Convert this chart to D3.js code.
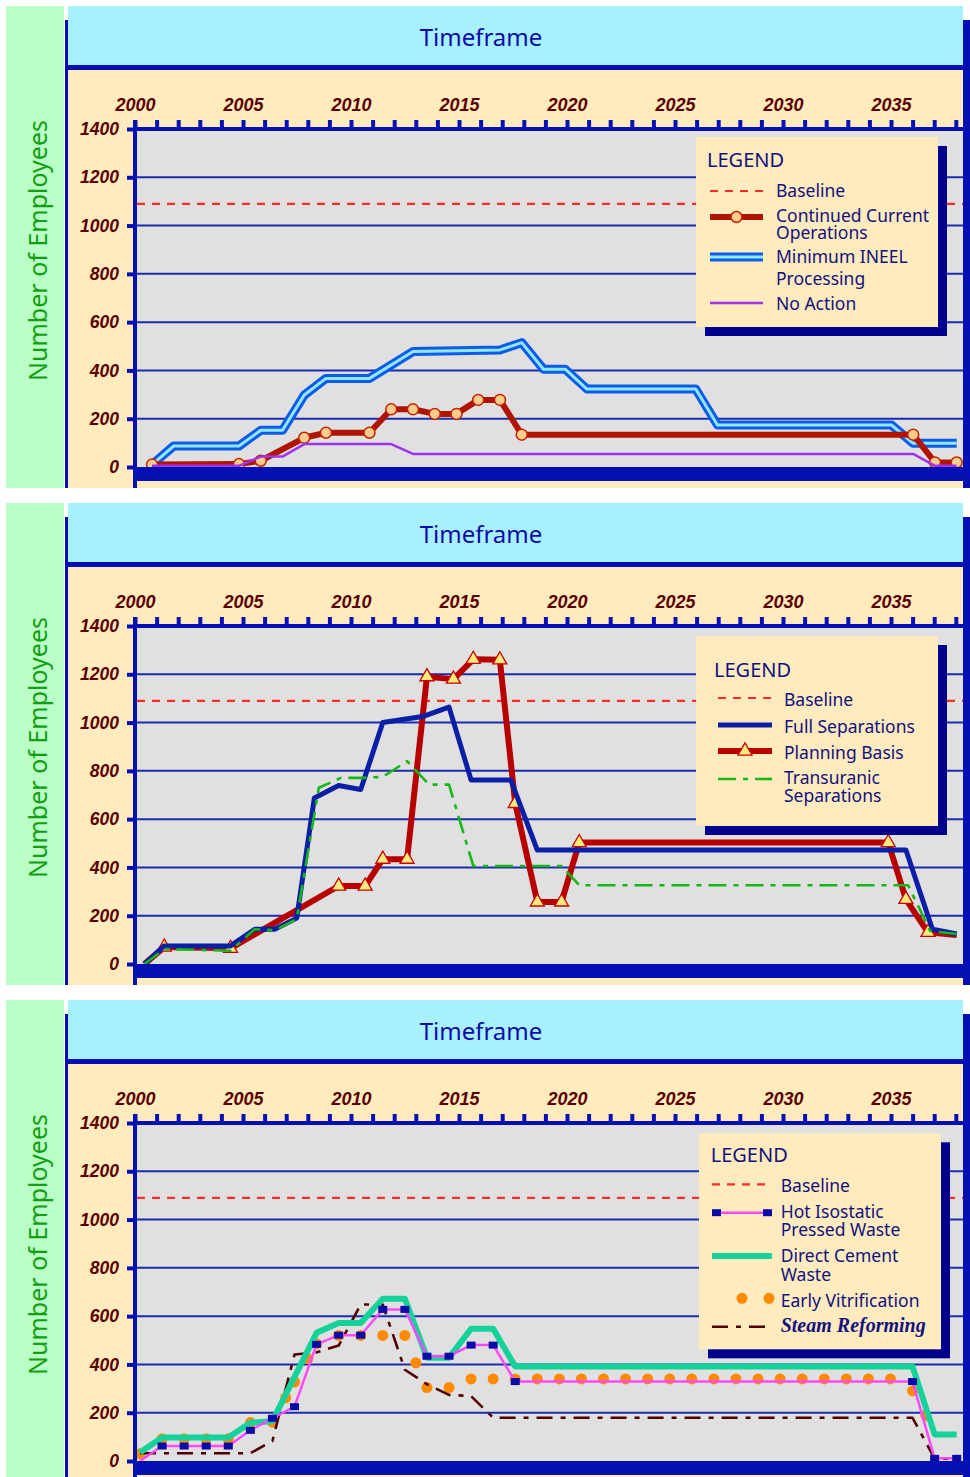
<!DOCTYPE html>
<html>
<head>
<meta charset="utf-8">
<title>Number of Employees by Timeframe</title>
<script src="https://cdn.jsdelivr.net/npm/d3@7"></script>
<style>
  body { margin: 0; background: #ffffff; }
  svg { display: block; }
  .title { font-family: 'Noto Sans', sans-serif; font-size: 24px; fill: #0c0ca8; }
  .ylabel { font-family: 'Noto Sans', sans-serif; font-size: 25px; fill: #12a012; }
  .tick text { font-family: 'Liberation Sans', Arial, sans-serif; font-weight: bold; font-style: italic; fill: #5a0000; }
  .legend-title { font-family: 'Noto Sans', sans-serif; font-size: 20px; fill: #12127f; }
  .legend-text { font-family: 'Noto Sans', sans-serif; font-size: 17.5px; fill: #12127f; }
  .legend-text.serif { font-family: 'Liberation Serif', serif; font-weight: bold; font-style: italic; font-size: 20px; }
</style>
</head>
<body>
<div id="chart"></div>
<script>
// ---------------------------------------------------------------------------
// DATA - values
// ---------------------------------------------------------------------------
const yearTicks = d3.range(2000, 2039);
const yearLabels = [2000, 2005, 2010, 2015, 2020, 2025, 2030, 2035];
const employeeTicks = [0, 200, 400, 600, 800, 1000, 1200, 1400];
const baselineEmployees = 1090;

// Panel 1
const minIneelYears = [2001, 2002, 2005, 2006, 2007, 2008, 2009, 2011, 2013, 2017, 2018, 2019, 2020, 2021, 2026, 2027, 2035, 2036, 2038];
const minIneelValues = [10, 87, 87, 152, 152, 298, 367, 367, 478, 485, 515, 405, 405, 323, 323, 174, 174, 98, 98];
const ccoYears = [2001, 2005, 2006, 2008, 2009, 2011, 2012, 2013, 2014, 2015, 2016, 2017, 2018, 2036, 2037, 2038];
const ccoValues = [10, 12, 26, 121, 142, 142, 239, 239, 220, 220, 278, 278, 134, 134, 19, 19];
const noActionYears = [2001, 2005, 2006, 2007, 2008, 2012, 2013, 2036, 2037, 2038];
const noActionValues = [5, 5, 43, 43, 95, 95, 54, 54, 5, 5];

// Panel 2
const planningYears = [2001.2, 2002.1, 2005.1, 2010.0, 2011.2, 2012.0, 2013.1, 2014.0, 2015.2, 2016.1, 2017.3, 2018.0, 2019.0, 2020.1, 2020.9, 2034.9, 2035.7, 2036.7, 2038.0];
const planningValues = [0, 70, 65, 323, 323, 434, 434, 1190, 1180, 1262, 1260, 665, 257, 257, 503, 503, 268, 131, 120];
const fullSepYears = [2001.2, 2002.1, 2005.1, 2006.2, 2007.1, 2008.1, 2008.9, 2010.0, 2011.0, 2012.0, 2013.8, 2015.0, 2016.0, 2017.8, 2019.0, 2035.7, 2036.9, 2038.0];
const fullSepValues = [0, 75, 75, 144, 144, 190, 688, 739, 723, 1000, 1025, 1064, 762, 762, 472, 472, 144, 124];
const transYears = [2001.2, 2002.1, 2005.1, 2006.2, 2007.1, 2008.1, 2009.1, 2010.1, 2011.0, 2012.0, 2013.1, 2014.1, 2015.0, 2016.1, 2020.1, 2020.9, 2035.8, 2036.8, 2038.0];
const transValues = [0, 62, 55, 144, 140, 186, 730, 771, 771, 775, 840, 743, 743, 406, 406, 326, 326, 137, 124];

// Panel 3
const evYears = [2001, 2002, 2003, 2004, 2005, 2006, 2007, 2007.6, 2008, 2008.6, 2009, 2010, 2011, 2012, 2013, 2013.5, 2014, 2015, 2016, 2017,
  2018, 2019, 2020, 2021, 2022, 2023, 2024, 2025, 2026, 2027, 2028, 2029, 2030, 2031, 2032, 2033, 2034, 2035, 2036, 2036.6];
const evValues = [30, 92, 92, 92, 92, 159, 161, 262, 327, 424, 486, 520, 520, 520, 520, 407, 304, 304, 340, 340,
  340, 340, 340, 340, 340, 340, 340, 340, 340, 340, 340, 340, 340, 340, 340, 340, 340, 340, 290, 189];
const steamYears = [2001, 2006, 2007, 2008, 2009, 2010, 2011, 2012, 2013, 2014, 2015, 2016, 2017, 2036, 2037, 2038];
const steamValues = [32, 32, 83, 441, 450, 478, 648, 648, 378, 318, 274, 269, 179, 179, 10, 10];
const dcwYears = [2001, 2002, 2005, 2006, 2007, 2009, 2010, 2011, 2012, 2013, 2014, 2015, 2016, 2017, 2018, 2036, 2037, 2038];
const dcwValues = [35, 97, 97, 158, 165, 531, 572, 572, 672, 672, 428, 428, 548, 548, 391, 391, 110, 110];
const hipYears = [2001, 2002, 2003, 2004, 2005, 2006, 2007, 2008, 2009, 2010, 2011, 2012, 2013, 2014, 2015, 2016, 2017, 2018, 2036, 2037, 2038];
const hipValues = [0, 62, 62, 62, 62, 127, 177, 225, 483, 521, 521, 628, 628, 434, 434, 480, 480, 329, 329, 11, 11];

// ---------------------------------------------------------------------------
// SERIES STYLES
// ---------------------------------------------------------------------------
const NAVY = '#0510b4';

const baselineSeries = { color: '#ff2a2a', width: 2.2, dash: '8,7' };
const minIneelSeries = { years: minIneelYears, values: minIneelValues, color: '#0c5ce8', width: 9, inner: '#92e6ff', innerWidth: 3 };
const ccoSeries = { years: ccoYears, values: ccoValues, color: '#b01400', width: 6, marker: 'circle', markFirst: true, markLast: true, legendMarks: 'middle' };
const noActionSeries = { years: noActionYears, values: noActionValues, color: '#a032ee', width: 2.5 };

const planningSeries = { years: planningYears, values: planningValues, color: '#b80000', width: 6, marker: 'triangle', legendMarks: 'middle' };
const fullSepSeries = { years: fullSepYears, values: fullSepValues, color: '#0b1fa6', width: 5 };
const transSeries = { years: transYears, values: transValues, color: '#16b816', width: 2.6, dash: '18,7,5,7' };

const evSeries = { years: evYears, values: evValues, color: '#ff8a00', width: 0, marker: 'dot', markFirst: true, markLast: true, legendMarks: 'dots' };
const steamSeries = { years: steamYears, values: steamValues, color: '#500000', width: 2.6, dash: '16,8,5,8' };
const dcwSeries = { years: dcwYears, values: dcwValues, color: '#14d29a', width: 6 };
const hipSeries = { years: hipYears, values: hipValues, color: '#ff48ff', width: 2.5, marker: 'square', markLast: true, legendMarks: 'ends' };

const panels = [
    {
        dataStart: 152,
        series: [minIneelSeries, ccoSeries, noActionSeries],
        legend: {
            x: 696, y: 137, w: 242, h: 190, titleX: 707, titleY: 167, sampleX: [710, 763], textX: 776,
            items: [
                { series: baselineSeries, sampleY: 191, textY: [197], lines: ['Baseline'] },
                { series: ccoSeries, sampleY: 217, textY: [222, 239], lines: ['Continued Current', 'Operations'] },
                { series: minIneelSeries, sampleY: 257, textY: [263, 285], lines: ['Minimum INEEL', 'Processing'] },
                { series: noActionSeries, sampleY: 303, textY: [310], lines: ['No Action'] }
            ]
        }
    },
    {
        dataStart: 140,
        series: [planningSeries, fullSepSeries, transSeries],
        legend: {
            x: 696, y: 139, w: 242, h: 190, titleX: 714, titleY: 180, sampleX: [718, 772], textX: 784,
            items: [
                { series: baselineSeries, sampleY: 201, textY: [209], lines: ['Baseline'] },
                { series: fullSepSeries, sampleY: 228, textY: [235.5], lines: ['Full Separations'] },
                { series: planningSeries, sampleY: 254, textY: [261.5], lines: ['Planning Basis'] },
                { series: transSeries, sampleY: 282, textY: [287, 305], lines: ['Transuranic', 'Separations'] }
            ]
        }
    },
    {
        dataStart: 140,
        series: [evSeries, steamSeries, dcwSeries, hipSeries],
        legend: {
            x: 699, y: 139.3, w: 242, h: 216, titleX: 710.7, titleY: 167.7, sampleX: [712, 772], textX: 780.7,
            items: [
                { series: baselineSeries, sampleY: 190.3, textY: [197.7], lines: ['Baseline'] },
                { series: hipSeries, sampleY: 218.7, textY: [223.5, 242], lines: ['Hot Isostatic', 'Pressed Waste'] },
                { series: dcwSeries, sampleY: 262, textY: [268, 286.5], lines: ['Direct Cement', 'Waste'] },
                { series: evSeries, sampleY: 304.3, textY: [312.7], lines: ['Early Vitrification'] },
                { series: steamSeries, sampleY: 332.7, textY: [337.7], lines: ['Steam Reforming'], serif: true }
            ]
        }
    }
];

const panelOffsets = [0, 497, 994];

// ---------------------------------------------------------------------------
// HELPERS
// ---------------------------------------------------------------------------
function strokeLine(g, d, s) {
    if (!s.width) return;
    g.append('path')
        .attr('d', d)
        .attr('fill', 'none')
        .attr('stroke', s.color)
        .attr('stroke-width', s.width)
        .attr('stroke-dasharray', s.dash || null)
        .attr('stroke-linejoin', 'round');
    if (s.inner) {
        g.append('path')
            .attr('d', d)
            .attr('fill', 'none')
            .attr('stroke', s.inner)
            .attr('stroke-width', s.innerWidth)
            .attr('stroke-linejoin', 'round');
    }
}

function drawMarker(g, kind, cx, cy) {
    if (kind === 'circle') {
        g.append('circle').attr('cx', cx).attr('cy', cy).attr('r', 5.5)
            .attr('fill', '#ffcc8c').attr('stroke', '#c42000').attr('stroke-width', 1.5);
    } else if (kind === 'triangle') {
        g.append('path').attr('d', d3.symbol(d3.symbolTriangle, 85)())
            .attr('transform', `translate(${cx},${cy})`)
            .attr('fill', '#ffea7a').attr('stroke', '#c80000').attr('stroke-width', 1.3);
    } else if (kind === 'square') {
        g.append('rect').attr('x', cx - 4.5).attr('y', cy - 3.5).attr('width', 9).attr('height', 7)
            .attr('fill', '#0a0aa6');
    } else if (kind === 'dot') {
        g.append('circle').attr('cx', cx).attr('cy', cy).attr('r', 5.5).attr('fill', '#ff8a00');
    }
}

function drawSeries(g, s, x, y) {
    const pts = s.years.map((yr, i) => [x(yr), y(s.values[i])]);
    strokeLine(g, d3.line()(pts), s);
    if (s.marker) {
        pts.forEach((p, i) => {
            if (i === 0 && !s.markFirst) return;
            if (i === pts.length - 1 && !s.markLast) return;
            drawMarker(g, s.marker, p[0], p[1]);
        });
    }
}

function drawLegend(g, lg) {
    g.append('rect').attr('x', lg.x + 9).attr('y', lg.y + 9).attr('width', lg.w).attr('height', lg.h).attr('fill', '#00008c');
    g.append('rect').attr('x', lg.x).attr('y', lg.y).attr('width', lg.w).attr('height', lg.h).attr('fill', '#ffebbd');
    g.append('text').attr('class', 'legend-title').attr('x', lg.titleX).attr('y', lg.titleY).text('LEGEND');

    const [x1, x2] = lg.sampleX;
    lg.items.forEach(item => {
        const s = item.series;
        const yy = item.sampleY;
        strokeLine(g, d3.line()([[x1, yy], [x2, yy]]), s);
        if (s.legendMarks === 'middle') drawMarker(g, s.marker, (x1 + x2) / 2, yy);
        if (s.legendMarks === 'ends') {
            drawMarker(g, s.marker, x1 + 4.5, yy);
            drawMarker(g, s.marker, x2 - 4.5, yy);
        }
        if (s.legendMarks === 'dots') {
            drawMarker(g, s.marker, x2 - 30, yy);
            drawMarker(g, s.marker, x2 - 3, yy);
        }
        // one text element per entry; wrapped lines as tspans
        const label = g.append('text')
            .attr('class', item.serif ? 'legend-text serif' : 'legend-text')
            .attr('x', lg.textX)
            .attr('y', item.textY[0]);
        item.lines.forEach((ln, i) => {
            label.append('tspan')
                .attr('x', lg.textX)
                .attr('y', item.textY[i])
                .text(ln);
        });
    });
}

// ---------------------------------------------------------------------------
// RENDER ONE PANEL
// ---------------------------------------------------------------------------
function renderPanel(svg, panel, top) {
    const g = svg.append('g').attr('transform', `translate(0,${top})`);

    // frame and backgrounds
    g.append('rect').attr('x', 6).attr('y', 6).attr('width', 58).attr('height', 482).attr('fill', '#baffc6');
    g.append('rect').attr('x', 65).attr('y', 20).attr('width', 905).attr('height', 468).attr('fill', NAVY);
    g.append('rect').attr('x', 68).attr('y', 6).attr('width', 895).attr('height', 59).attr('fill', '#a8f0fd');
    g.append('rect').attr('x', 68).attr('y', 70).attr('width', 895).attr('height', 418).attr('fill', '#ffebbd');
    g.append('rect').attr('x', 137).attr('y', 131).attr('width', 826).attr('height', 336).attr('fill', '#e0e0e0');

    g.append('text').attr('class', 'title').attr('x', 481).attr('y', 46).attr('text-anchor', 'middle').text('Timeframe');
    g.append('text').attr('class', 'ylabel')
        .attr('transform', 'translate(47,250.5) rotate(-90)')
        .attr('text-anchor', 'middle')
        .text('Number of Employees');

    // scales
    const xAxisScale = d3.scaleLinear().domain([2000, 2038]).range([135, 955.8]);
    const xData = d3.scaleLinear().domain([2001, 2038]).range([panel.dataStart, 956.7]);
    const y = d3.scaleLinear().domain([0, 1400]).range([467, 129]);

    // grid lines
    g.append('g').selectAll('line')
        .data(employeeTicks.filter(v => v > 0 && v < 1400))
        .enter().append('line')
        .attr('x1', 137).attr('x2', 963)
        .attr('y1', d => y(d)).attr('y2', d => y(d))
        .attr('stroke', '#1a2db0').attr('stroke-width', 2);

    // baseline
    g.append('line')
        .attr('x1', 137).attr('x2', 963)
        .attr('y1', y(baselineEmployees)).attr('y2', y(baselineEmployees))
        .attr('stroke', baselineSeries.color).attr('stroke-width', baselineSeries.width)
        .attr('stroke-dasharray', baselineSeries.dash);

    // series
    const sg = g.append('g');
    panel.series.forEach(s => drawSeries(sg, s, xData, y));

    // legend
    drawLegend(g, panel.legend);

    // axes bars
    g.append('rect').attr('x', 133).attr('y', 127).attr('width', 830).attr('height', 4).attr('fill', NAVY);
    g.append('rect').attr('x', 133).attr('y', 120).attr('width', 4).attr('height', 368).attr('fill', NAVY);
    g.append('rect').attr('x', 133).attr('y', 467).attr('width', 837).attr('height', 14).attr('fill', NAVY);

    const xAxis = d3.axisTop(xAxisScale)
        .tickValues(yearTicks)
        .tickSize(9)
        .tickPadding(9)
        .tickFormat(d => yearLabels.includes(d) ? d : '');
    const xa = g.append('g').attr('transform', 'translate(0,129)').call(xAxis);
    xa.select('.domain').remove();
    xa.attr('font-size', null).attr('font-family', null);
    xa.selectAll('.tick line').attr('stroke', NAVY).attr('stroke-width', 4);
    xa.selectAll('.tick text').style('font-size', '18px');

    const yAxis = d3.axisLeft(y)
        .tickValues(employeeTicks)
        .tickSize(8)
        .tickPadding(8)
        .tickFormat(d3.format('d'));
    const ya = g.append('g').attr('transform', 'translate(135,0)').call(yAxis);
    ya.select('.domain').remove();
    ya.attr('font-size', null).attr('font-family', null);
    ya.selectAll('.tick line').attr('stroke', NAVY).attr('stroke-width', 4);
    ya.selectAll('.tick text').style('font-size', '17.5px');
}

const svg = d3.select('#chart').append('svg').attr('width', 970).attr('height', 1477);
panels.forEach((p, i) => renderPanel(svg, p, panelOffsets[i]));
</script>
</body>
</html>
